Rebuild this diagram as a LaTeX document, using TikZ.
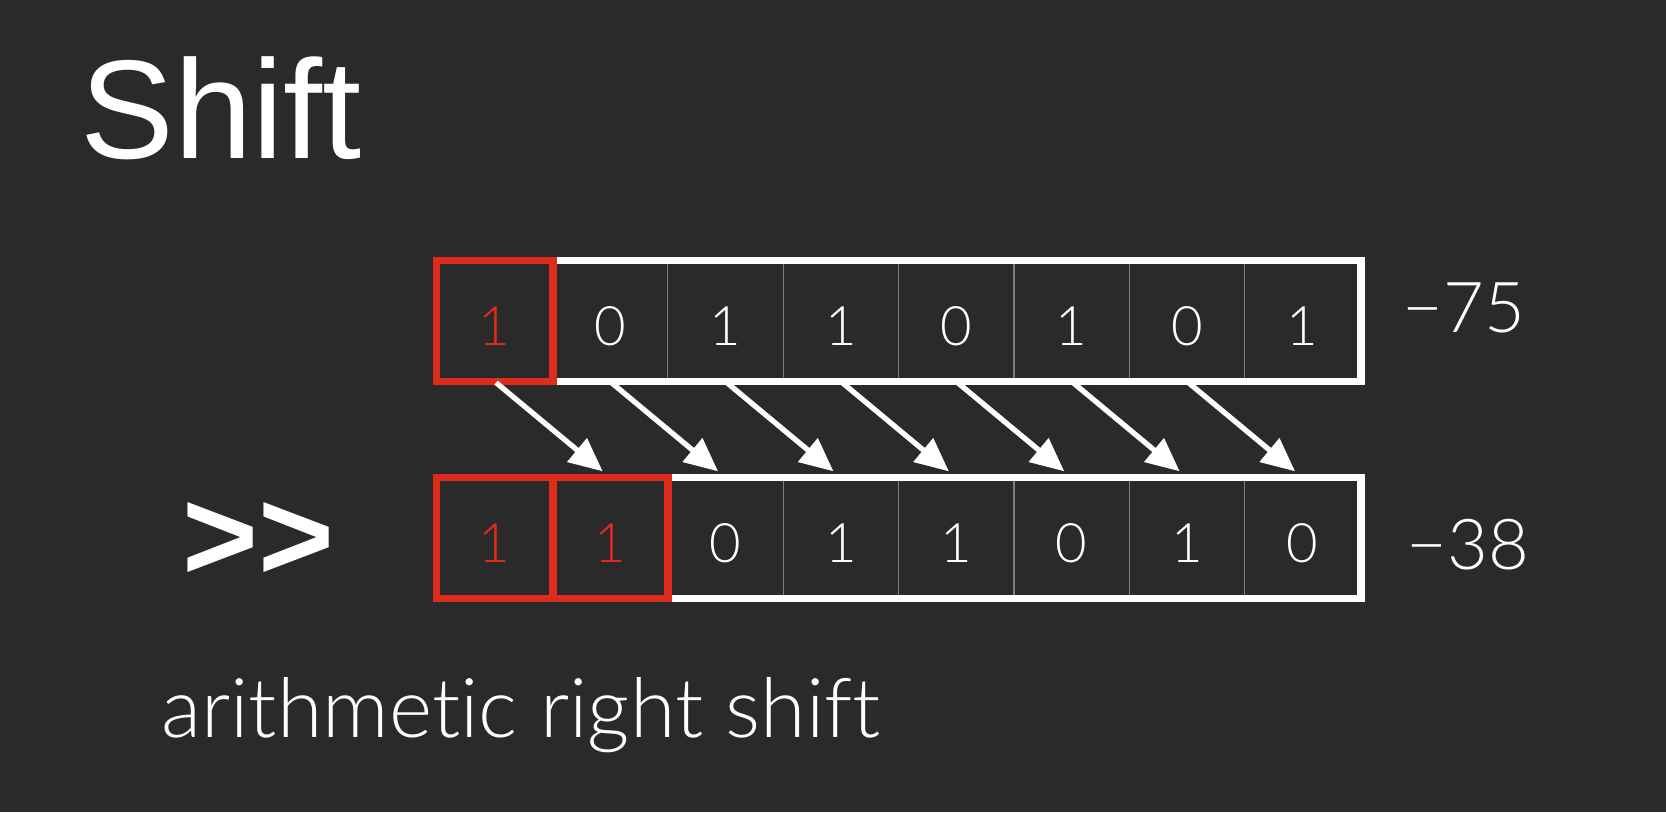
\documentclass[tikz,border=0pt]{standalone}
\usepackage{fontspec}
\setmainfont{Liberation Sans}
\newfontfamily\chalk{Lato Light}[Ligatures={NoCommon,TeX}]
\usetikzlibrary{arrows.meta,positioning}
\definecolor{board}{RGB}{42,42,42}
\definecolor{chalkred}{RGB}{221,44,30}
\definecolor{gridgray}{RGB}{125,125,125}

\begin{document}
\begin{tikzpicture}[
  x=0.02cm, y=-0.02cm,
  cell/.style={draw=gridgray, line width=0.6pt, minimum width=2.308cm, minimum height=2.4cm, inner sep=0pt, text height=28pt, text depth=0pt, font=\chalk\fontsize{31}{31}\selectfont},
  frame/.style={draw=white, line width=4.4pt},
  redframe/.style={draw=chalkred, line width=4.4pt},
  shiftarrow/.style={draw=white, line width=3pt, -{Triangle[length=19pt,width=17pt]}, shorten >=5.5pt, shorten <=1pt},
  value/.style={text=white, font=\chalk\fontsize{40}{40}\selectfont}
]
  % board
  \fill[board] (0,0) rectangle (1666,812);

  % title
  \node[anchor=base west, inner sep=0pt, text=white, font=\fontsize{80}{80}\selectfont] (title) at (80,158) {Shift};

  % original byte
  \foreach \b/\c [count=\i] in {1/chalkred,0/white,1/white,1/white,0/white,1/white,0/white,1/white}
    \node[cell, text=\c] (t\i) at ({437+115.4*(\i-0.5)},321) {\b};

  % shifted byte
  \foreach \b/\c [count=\i] in {1/chalkred,1/chalkred,0/white,1/white,1/white,0/white,1/white,0/white}
    \node[cell, text=\c] (b\i) at ({437+115.4*(\i-0.5)},538) {\b};

  % frames
  \draw[frame] (t1.north west) rectangle (t8.south east);
  \draw[redframe] (t1.north west) rectangle (t1.south east);
  \draw[frame] (b1.north west) rectangle (b8.south east);
  \draw[redframe] (b1.north west) rectangle (b2.south east);
  \draw[redframe] (b1.north east) -- (b1.south east);

  % each bit moves one place right
  \foreach \i [evaluate=\i as \j using int(\i+1)] in {1,...,7}
    \draw[shiftarrow] (t\i.south) -- (b\j.north);

  % values
  \node[value] (val75) at (1464,308) {−75};
  \node[value] (val38) at (1468,545) {−38};

  % operator and caption
  \node[text=white, font=\bfseries\fontsize{74}{74}\selectfont] (op) at (258,541) {>{}>};
  \node[anchor=base west, inner sep=0pt, text=white, font=\chalk\fontsize{47}{47}\selectfont] (caption) at (161,737) {arithmetic right shift};
\end{tikzpicture}
\end{document}
